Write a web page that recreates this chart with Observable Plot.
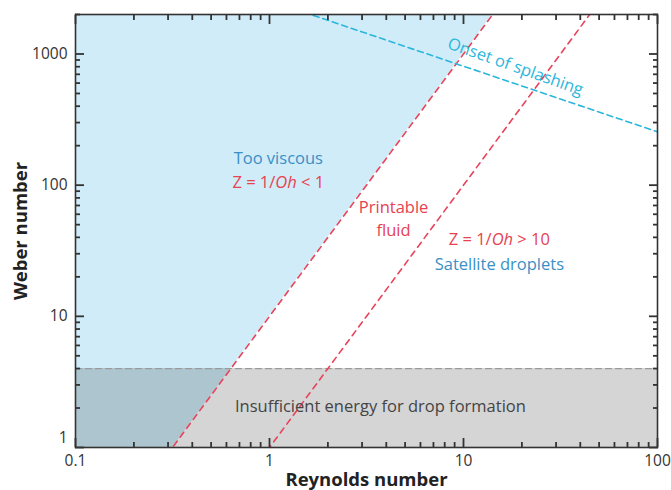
<!DOCTYPE html>
<html><head><meta charset="utf-8">
<script src="https://cdn.jsdelivr.net/npm/d3@7"></script>
<script src="https://cdn.jsdelivr.net/npm/@observablehq/plot@0.6"></script>
<style>body{margin:0;background:#fff} svg{display:block}</style>
</head><body><div id="chart"></div>
<script>
// Tick values
const xMajor = [0.1, 1, 10, 100];
const xMinor = [0.2, 0.3, 0.4, 0.5, 0.6, 0.7, 0.8, 0.9, 2, 3, 4, 5, 6, 7, 8, 9, 20, 30, 40, 50, 60, 70, 80, 90];
const yMajor = [1, 10, 100, 1000];
const yMinor = [2, 3, 4, 5, 6, 7, 8, 9, 20, 30, 40, 50, 60, 70, 80, 90, 200, 300, 400, 500, 600, 700, 800, 900, 2000];

// Boundary lines (Reynolds, Weber)
const viscousLine = [{Re: 0.1, We: 0.1}, {Re: 15, We: 2250}];      // Z = 1/Oh = 1 boundary
const satelliteLine = [{Re: 0.9, We: 0.81}, {Re: 50, We: 2500}];   // Z = 1/Oh = 10 boundary
const splashLine = [{Re: 1.2, We: 2330}, {Re: 100, We: 255}];      // onset of splashing
const energyLine = [{Re: 0.1, We: 4}, {Re: 100, We: 4}];           // minimum We for drop formation

// Annotations
const labels = [
  {Re: 1.11, We: 160, text: "Too viscous", color: "#3a8fc6"},
  {Re: 1.11, We: 104, text: "Z = 1/Oh < 1", color: "#e8414f"},
  {Re: 4.36, We: 67, text: "Printable", color: "#e8414f"},
  {Re: 4.36, We: 45, text: "fluid", color: "#e8414f"},
  {Re: 15.3, We: 38.3, text: "Z = 1/Oh > 10", color: "#e8414f"},
  {Re: 15.3, We: 24.8, text: "Satellite droplets", color: "#3a8fc6"},
  {Re: 3.73, We: 2.05, text: "Insufficient energy for drop formation", color: "#444"}
];
const splashLabel = [{Re: 18.5, We: 800, text: "Onset of splashing"}];
const xTitle = "Reynolds number";
const yTitle = "Weber number";

const font = "'Open Sans', 'Noto Sans', sans-serif";
const axisColor = "#333";
const W = 671, H = 490, mL = 75, mR = 14, mT = 14, mB = 43;

// inward tick marks, drawn as axis ticks shifted into the frame
const blank = () => "";
const tk = {stroke: axisColor, strokeWidth: 1.8, tickFormat: blank, label: null};
function inwardTicks(values, len) {
  return [
    Plot.axisX(values, {anchor: "bottom", tickSize: len, dy: -len, ...tk}),
    Plot.axisX(values, {anchor: "top", tickSize: len, dy: len, ...tk})
  ];
}
function inwardTicksY(values, len) {
  return [
    Plot.axisY(values, {anchor: "left", tickSize: len, dx: len, ...tk}),
    Plot.axisY(values, {anchor: "right", tickSize: len, dx: -len, ...tk})
  ];
}

const chart = Plot.plot({
  width: W,
  height: H,
  marginLeft: mL,
  marginRight: mR,
  marginTop: mT,
  marginBottom: mB,
  style: {fontFamily: font, fontSize: "15px", color: "#333", background: "#fff"},
  x: {type: "log", domain: [0.1, 100]},
  y: {type: "log", domain: [1, 2000]},
  marks: [
    Plot.areaY(viscousLine, {x: "Re", y1: "We", y2: 2250, fill: "#d0ecf8", clip: true}),
    Plot.areaY(energyLine, {x: "Re", y1: 0.5, y2: "We", fill: "#000", fillOpacity: 0.165, clip: true}),
    Plot.line(energyLine, {x: "Re", y: "We", stroke: "#9a9a9a", strokeWidth: 1.3, strokeDasharray: "6,4", clip: true}),
    Plot.line(viscousLine, {x: "Re", y: "We", stroke: "#e8435a", strokeWidth: 1.6, strokeDasharray: "6,5", clip: true}),
    Plot.line(satelliteLine, {x: "Re", y: "We", stroke: "#e8435a", strokeWidth: 1.6, strokeDasharray: "6,5", clip: true}),
    Plot.line(splashLine, {x: "Re", y: "We", stroke: "#2ab6dc", strokeWidth: 1.6, strokeDasharray: "6,4", clip: true}),
    Plot.text(labels, {x: "Re", y: "We", text: "text", fill: "color", fontSize: 16.5}),
    Plot.text(splashLabel, {x: "Re", y: "We", text: "text", fill: "#2ab6dc", fontSize: 16.5, rotate: 19.5}),
    ...inwardTicks(xMajor, 9),
    ...inwardTicks(xMinor, 5),
    ...inwardTicksY(yMajor, 9),
    ...inwardTicksY(yMinor, 5),
    // tick labels
    Plot.axisX(xMajor, {anchor: "bottom", tickSize: 0, tickPadding: 7, fill: "#333", fontSize: 15.5, label: null, tickFormat: d => String(d)}),
    Plot.axisY(yMajor.filter(d => d > 1), {anchor: "left", tickSize: 0, tickPadding: 8, fill: "#333", fontSize: 15.5, label: null, tickFormat: d => String(d)}),
    Plot.axisY(yMajor.filter(d => d === 1), {anchor: "left", tickSize: 0, tickPadding: 8, dy: -9, fill: "#333", fontSize: 15.5, label: null, tickFormat: d => String(d)}),
    Plot.frame({stroke: axisColor, strokeWidth: 1.6}),
    Plot.text([xTitle], {frameAnchor: "bottom", lineAnchor: "bottom", textAnchor: "middle", dy: 38, text: d => d, fontWeight: "bold", fontSize: 18.5, fill: "#222"}),
    Plot.text([yTitle], {frameAnchor: "left", textAnchor: "middle", dx: -54, rotate: -90, text: d => d, fontWeight: "bold", fontSize: 18.5, fill: "#222"})
  ]
});

// italicise "Oh"
chart.querySelectorAll("text").forEach(t => {
  const s = t.textContent;
  if (s.includes("1/Oh")) {
    const esc = s.replace(/&/g, "&amp;").replace(/</g, "&lt;").replace(/>/g, "&gt;");
    t.innerHTML = esc.replace("Oh", '<tspan font-style="italic">Oh</tspan>');
  }
});

document.getElementById("chart").appendChild(chart);
</script>
</body></html>
